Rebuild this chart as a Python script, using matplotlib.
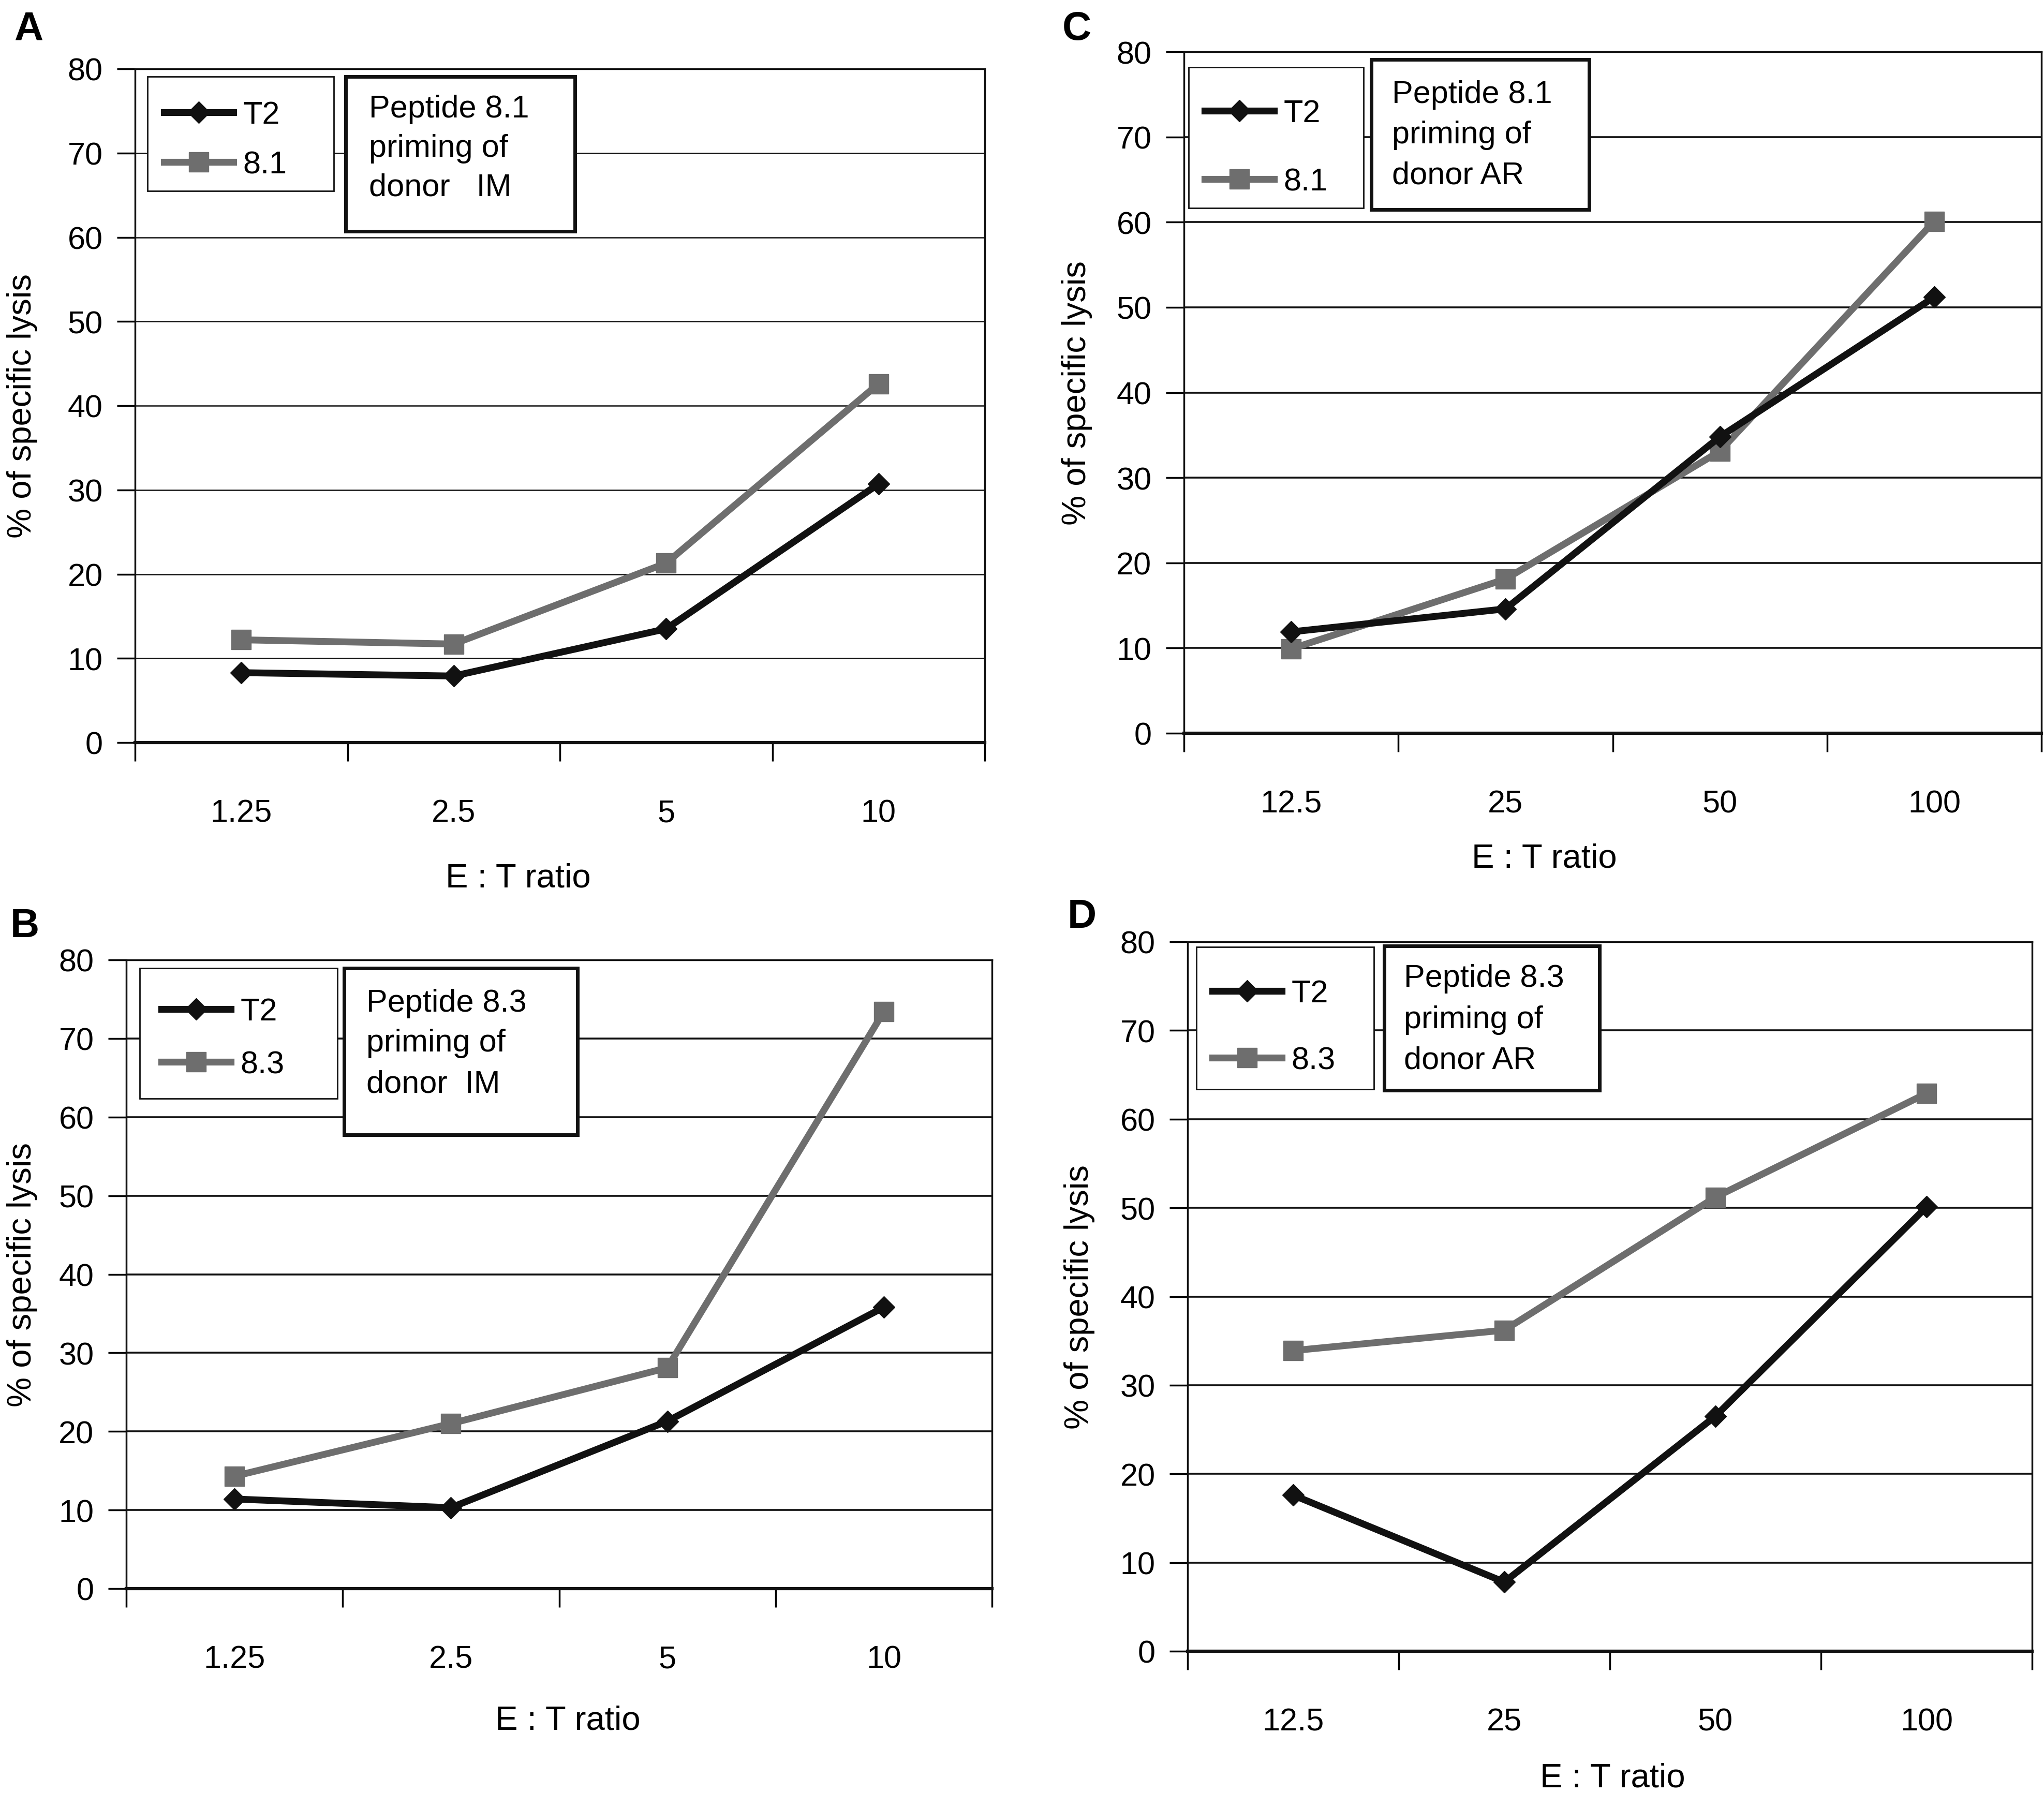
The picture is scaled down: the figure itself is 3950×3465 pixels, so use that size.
import matplotlib
matplotlib.use("Agg")
import matplotlib.pyplot as plt
from matplotlib.patches import Rectangle

plt.rcParams["font.family"] = ["Liberation Sans", "DejaVu Sans"]

# ---- data ----
ratios_im = ["1.25", "2.5", "5", "10"]
ratios_ar = ["12.5", "25", "50", "100"]

a_t2 = [8.3, 7.9, 13.5, 30.7]
a_pep = [12.2, 11.7, 21.3, 42.6]
b_t2 = [11.4, 10.3, 21.3, 35.8]
b_pep = [14.3, 21.0, 28.1, 73.4]
c_t2 = [11.9, 14.6, 34.8, 51.2]
c_pep = [9.9, 18.1, 33.1, 60.1]
d_t2 = [17.6, 7.8, 26.5, 50.1]
d_pep = [33.9, 36.2, 51.2, 62.9]

y_ticks = [0, 10, 20, 30, 40, 50, 60, 70, 80]

W, H = 3950, 3466
FS = 44      # ticks, legend, note box
FS_LAB = 47  # axis titles
BLACK = "#111111"
GREY = "#6e6e6e"

fig = plt.figure(figsize=(W / 100, H / 100), dpi=100)


def fx(x):
    return x / W


def fy(y):
    return 1 - y / H


def draw_panel(letter, cats, t2, pep, pep_name, note, ax_px, letter_px,
               ylab_x, xlab_frac, xlab_off, grid_lw, leg_box, leg_rows, leg_x,
               note_box, note_x, note_ys):
    l, r, t, b = ax_px
    ax = fig.add_axes([fx(l), fy(b), (r - l) / W, (b - t) / H])
    x = range(1, len(cats) + 1)
    h1, = ax.plot(x, t2, color=BLACK, lw=9.5, marker="D", ms=21,
                  label="T2", zorder=4)
    h2, = ax.plot(x, pep, color=GREY, lw=9.5, marker="s", ms=27,
                  label=pep_name, zorder=3)

    ax.set_xlim(0.5, len(cats) + 0.5)
    ax.set_ylim(0, 80)
    ax.set_yticks(y_ticks)
    ax.yaxis.grid(True, color=BLACK, lw=grid_lw)
    ax.set_axisbelow(True)
    for s in ax.spines.values():
        s.set_linewidth(2.5)
        s.set_color(BLACK)
    ax.spines["bottom"].set_linewidth(4.5)

    ax.set_xticks(list(x))
    ax.set_xticklabels(cats)
    ax.set_xticks([i + 0.5 for i in range(len(cats) + 1)], minor=True)
    ax.tick_params(axis="x", which="major", length=0, pad=78, labelsize=FS)
    ax.tick_params(axis="x", which="minor", length=26, width=2.5, direction="out")
    ax.tick_params(axis="y", length=25, width=2.5, pad=20, labelsize=FS)

    ax.set_xlabel("E : T ratio", fontsize=FS_LAB)
    ax.xaxis.set_label_coords(xlab_frac, -xlab_off / (b - t))
    ax.xaxis.label.set_va("center")
    ax.set_ylabel("% of specific lysis", fontsize=FS_LAB)
    ax.yaxis.set_label_coords(-(l - ylab_x) / (r - l), 0.5)
    ax.yaxis.label.set_va("center")

    fig.text(fx(letter_px[0]), fy(letter_px[1]), letter, fontsize=56,
             fontweight="bold", ha="center", va="center")

    # legend frame + entries
    x0, y0, x1, y1 = leg_box
    fig.add_artist(Rectangle((fx(x0), fy(y1)), (x1 - x0) / W, (y1 - y0) / H,
                             transform=fig.transFigure, facecolor="white",
                             edgecolor=BLACK, lw=2, zorder=5))
    leg = fig.legend([h1, h2], ["T2", pep_name], loc="center left",
                     bbox_to_anchor=(fx(leg_x), fy((leg_rows[0] + leg_rows[1]) / 2)),
                     bbox_transform=fig.transFigure, frameon=False,
                     fontsize=FS, handlelength=2.2, handletextpad=0.3,
                     borderpad=0, borderaxespad=0,
                     labelspacing=(leg_rows[1] - leg_rows[0]) / 61 - 1.0)
    leg.set_zorder(6)

    # note box
    x0, y0, x1, y1 = note_box
    fig.add_artist(Rectangle((fx(x0), fy(y1)), (x1 - x0) / W, (y1 - y0) / H,
                             transform=fig.transFigure, facecolor="white",
                             edgecolor=BLACK, lw=5, zorder=5))
    for line, yy in zip(note.split("\n"), note_ys):
        fig.text(fx(note_x), fy(yy), line, fontsize=FS, ha="left",
                 va="center", zorder=7)
    return ax


draw_panel("A", ratios_im, a_t2, a_pep, "8.1", "Peptide 8.1\npriming of\ndonor   IM",
           (261, 1903, 134, 1436), (55, 57), 43, 0.451, 262, 1.8,
           (285, 149, 645, 370), (222, 322), 317,
           (668, 149, 1111, 448), 713, (212, 287, 363))

draw_panel("C", ratios_ar, c_t2, c_pep, "8.1", "Peptide 8.1\npriming of\ndonor AR",
           (2288, 3945, 101, 1418), (2081, 57), 2081, 0.42, 242, 2.6,
           (2297, 131, 2635, 403), (219, 355), 2328,
           (2650, 116, 3071, 406), 2690, (184, 262, 340))

draw_panel("B", ratios_im, b_t2, b_pep, "8.3", "Peptide 8.3\npriming of\ndonor  IM",
           (244, 1917, 1856, 3071), (48, 1791), 43, 0.51, 255, 2.6,
           (270, 1872, 652, 2124), (1955, 2061), 312,
           (665, 1872, 1116, 2194), 708, (1940, 2017, 2096))

draw_panel("D", ratios_ar, d_t2, d_pep, "8.3", "Peptide 8.3\npriming of\ndonor AR",
           (2295, 3927, 1821, 3192), (2091, 1773), 2086, 0.503, 245, 2.6,
           (2312, 1831, 2655, 2106), (1920, 2053), 2343,
           (2675, 1829, 3091, 2108), 2713, (1892, 1972, 2050))

fig.savefig("out.png", dpi=100)
